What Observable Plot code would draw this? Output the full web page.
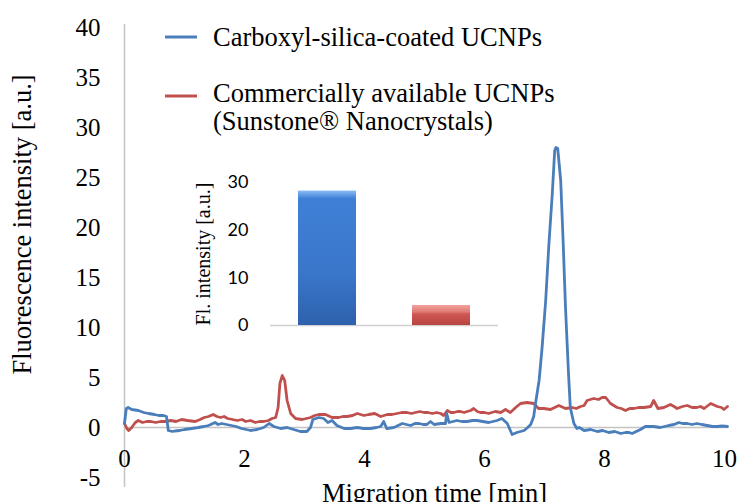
<!DOCTYPE html>
<html><head><meta charset="utf-8">
<script src="https://cdn.jsdelivr.net/npm/d3@7"></script>
<script src="https://cdn.jsdelivr.net/npm/@observablehq/plot@0.6"></script>
<style>
body{margin:0;background:#fff;}
#wrap{position:relative;width:741px;height:502px;overflow:hidden;background:#fff;}
#inset{position:absolute;left:180px;top:150px;}
</style></head><body><div id="wrap"><div id="main"></div><div id="inset"></div></div>
<script>
// ---- series names / colours ----
const seriesNames = ["Carboxyl-silica-coated UCNPs", "Commercially available UCNPs\n(Sunstone® Nanocrystals)"];
const seriesColors = ["#4a7ebb", "#c0504d"];

// ---- electropherogram: carboxyl-silica-coated UCNPs (blue) ----
const blueTime = [0.00,0.03,0.06,0.12,0.23,0.32,0.40,0.50,0.57,0.65,0.70,0.73,0.80,0.84,0.92,1.00,1.12,1.23,1.32,1.40,1.51,1.56,1.62,1.70,1.78,1.86,1.95,2.03,2.10,2.21,2.32,2.41,2.49,2.60,2.71,2.82,2.93,3.04,3.10,3.14,3.24,3.32,3.39,3.46,3.54,3.66,3.77,3.88,3.98,4.10,4.20,4.27,4.32,4.37,4.49,4.56,4.63,4.70,4.77,4.84,4.91,4.98,5.04,5.10,5.16,5.27,5.35,5.37,5.41,5.54,5.62,5.71,5.80,5.88,5.97,6.07,6.14,6.21,6.29,6.38,6.46,6.54,6.60,6.66,6.72,6.77,6.82,6.85,6.91,6.96,7.02,7.07,7.13,7.17,7.19,7.22,7.27,7.31,7.35,7.40,7.43,7.49,7.54,7.58,7.66,7.77,7.88,7.97,8.07,8.17,8.27,8.35,8.41,8.46,8.53,8.60,8.68,8.75,8.82,8.93,9.00,9.07,9.16,9.24,9.30,9.38,9.46,9.54,9.62,9.71,9.80,9.88,9.96,10.05];
const blueValue = [0.4,1.9,2.0,1.8,1.7,1.5,1.4,1.3,1.2,1.2,1.1,-0.3,-0.4,-0.35,-0.3,-0.2,-0.1,0.0,0.1,0.2,0.5,0.3,0.4,0.3,0.2,0.1,-0.1,-0.2,-0.3,-0.2,0.0,0.4,0.1,-0.1,0.0,-0.2,-0.4,-0.4,0.0,0.8,1.0,0.9,0.5,0.7,0.2,-0.1,-0.1,0.0,-0.1,-0.1,0.0,0.1,0.6,-0.1,0.0,0.2,0.4,0.3,0.2,0.4,0.4,0.3,0.3,0.6,0.3,0.4,0.4,1.4,0.5,0.7,0.6,0.6,0.7,0.7,0.6,0.5,0.6,0.7,0.9,0.4,-0.7,-0.5,-0.4,-0.3,0.0,0.3,1.1,2.4,4.7,8.0,12.7,18.0,23.4,27.7,28.0,27.9,24.7,18.7,12.0,5.4,2.0,0.4,-0.1,0.0,-0.3,-0.2,-0.4,-0.3,-0.5,-0.4,-0.6,-0.5,-0.5,-0.6,-0.4,-0.2,0.1,0.1,0.1,0.0,0.1,0.2,0.3,0.5,0.4,0.4,0.3,0.4,0.3,0.2,0.1,0.1,0.15,0.1];

// ---- electropherogram: commercially available UCNPs (red) ----
const redTime = [0.00,0.04,0.07,0.12,0.18,0.23,0.30,0.37,0.44,0.52,0.60,0.68,0.77,0.86,0.95,1.05,1.18,1.26,1.33,1.40,1.48,1.54,1.60,1.66,1.72,1.80,1.88,1.96,2.02,2.10,2.18,2.25,2.32,2.40,2.46,2.52,2.56,2.59,2.63,2.67,2.71,2.77,2.85,2.96,3.03,3.10,3.17,3.24,3.35,3.46,3.57,3.64,3.71,3.80,3.88,3.99,4.07,4.17,4.27,4.38,4.46,4.54,4.62,4.71,4.78,4.85,4.92,4.99,5.06,5.13,5.20,5.27,5.32,5.38,5.44,5.49,5.55,5.60,5.66,5.71,5.77,5.82,5.88,5.93,6.00,6.07,6.12,6.18,6.27,6.35,6.43,6.52,6.60,6.71,6.82,6.90,6.99,7.10,7.17,7.24,7.35,7.46,7.53,7.60,7.66,7.71,7.82,7.90,7.96,8.02,8.10,8.21,8.28,8.35,8.42,8.49,8.57,8.66,8.77,8.82,8.89,8.99,9.10,9.16,9.21,9.30,9.38,9.46,9.54,9.60,9.66,9.77,9.88,9.95,9.99,10.05];
const redValue = [0.4,-0.1,-0.3,0.0,0.5,0.7,0.5,0.6,0.6,0.5,0.6,0.6,0.7,0.6,0.8,0.7,0.6,0.8,1.0,1.1,1.3,1.1,1.0,1.1,0.9,0.8,0.7,0.8,0.6,0.7,0.5,0.6,0.6,0.7,0.9,1.0,2.0,4.4,5.2,4.7,2.7,1.4,0.9,0.8,0.9,1.0,1.2,1.3,1.3,1.0,1.0,1.1,1.1,1.2,1.4,1.2,1.3,1.4,1.1,1.3,1.3,1.4,1.5,1.5,1.4,1.5,1.6,1.5,1.5,1.4,1.5,1.4,1.2,1.7,1.5,1.5,1.6,1.6,1.5,1.6,1.7,1.9,1.6,1.5,1.5,1.4,1.5,1.6,1.5,1.8,1.5,2.0,2.4,2.5,2.4,1.9,1.9,1.8,2.0,2.2,1.9,2.0,1.9,2.1,2.2,2.7,2.9,2.8,3.0,3.0,2.4,2.0,1.9,1.7,1.9,1.9,2.0,2.0,2.1,2.7,1.9,2.0,2.3,2.1,1.9,2.1,2.2,2.0,2.0,2.1,1.9,2.4,2.1,2.0,1.8,2.1];

// ---- axes ----
const xTicks = [0, 2, 4, 6, 8, 10];
const yTicks = [-5, 0, 5, 10, 15, 20, 25, 30, 35, 40];
const xTitle = "Migration time [min]";
const yTitle = "Fluorescence intensity [a.u.]";

// ---- inset bar chart ----
const insetCategories = ["Carboxyl-silica-coated UCNPs", "Commercially available UCNPs"];
const insetValues = [28.2, 4.2];
const insetTicks = [0, 10, 20, 30];
const insetTitle = "Fl. intensity [a.u.]";

// tables built from the arrays
const blueData = blueTime.map((t, i) => ({t, v: blueValue[i]}));
const redData = redTime.map((t, i) => ({t, v: redValue[i]}));
const gradIds = ["url(#gradBlue)", "url(#gradRed)"];
const insetData = insetCategories.map((c, i) => ({name: c, value: insetValues[i], fill: gradIds[i]}));

const serif = "'Liberation Serif', 'Times New Roman', serif";

const main = Plot.plot({
  width: 741, height: 502,
  marginLeft: 124, marginRight: 17, marginTop: 27, marginBottom: 25,
  style: {fontFamily: serif, fontSize: "25px", color: "#000", background: "transparent"},
  x: {domain: [0, 10]},
  y: {domain: [-5, 40]},
  marks: [
    Plot.ruleY([0], {stroke: "#c4c4c4", strokeWidth: 1.5, insetRight: -3}),
    Plot.ruleX([0], {stroke: "#c4c4c4", strokeWidth: 1.5, insetTop: -3, insetBottom: -10}),
    Plot.lineY(redData, {x: "t", y: "v", stroke: seriesColors[1], strokeWidth: 2.8, strokeLinejoin: "round"}),
    Plot.lineY(blueData, {x: "t", y: "v", stroke: seriesColors[0], strokeWidth: 2.8, strokeLinejoin: "round"}),
    Plot.axisY(yTicks, {tickSize: 0, tickPadding: 24, label: null, tickFormat: d => String(d), fontSize: 25}),
    Plot.axisX(xTicks, {tickSize: 0, tickPadding: 0, dy: -28, label: null, tickFormat: d => String(d), fontSize: 25}),
    Plot.text([yTitle], {text: d => d, frameAnchor: "left", textAnchor: "middle", lineAnchor: "middle", rotate: -90, dx: -102, dy: -28, fontSize: 26.5}),
    Plot.text([xTitle], {text: d => d, frameAnchor: "bottom", textAnchor: "middle", lineAnchor: "middle", dx: 10, dy: 16, fontSize: 26.5})
  ]
});
document.getElementById("main").appendChild(main);

// legend inside the main svg
const lg = d3.select(main).append("g").attr("font-family", serif).attr("font-size", 26.5)
  .attr("fill", "#000").attr("text-anchor", "start");
const legendLineY = [37, 96];
const legendTextY = [46, 102];
seriesNames.forEach((name, i) => {
  lg.append("line").attr("x1", 165).attr("x2", 197).attr("y1", legendLineY[i]).attr("y2", legendLineY[i])
    .attr("stroke", seriesColors[i]).attr("stroke-width", 3);
  const txt = lg.append("text").attr("x", 213).attr("y", legendTextY[i]);
  name.split("\n").forEach((line, j) => {
    txt.append("tspan").attr("x", 213).attr("dy", j === 0 ? 0 : 28).text(line);
  });
});

// inset
const inset = Plot.plot({
  width: 330, height: 200,
  marginLeft: 90, marginRight: 12, marginTop: 32, marginBottom: 25,
  style: {fontFamily: "Lato, 'Open Sans', sans-serif", fontSize: "18px", color: "#000", background: "transparent"},
  x: {domain: insetCategories, paddingInner: 0.487, paddingOuter: 0.235, axis: null},
  y: {domain: [0, 30]},
  color: {type: "identity"},
  marks: [
    Plot.ruleY([0], {stroke: "#d0d0d0", strokeWidth: 1.5}),
    Plot.barY(insetData, {x: "name", y: "value", fill: "fill"}),
    Plot.axisY(insetTicks, {tickSize: 0, tickPadding: 22, label: null, fontSize: 18}),
    Plot.text([insetTitle], {text: d => d, frameAnchor: "left", textAnchor: "middle", lineAnchor: "middle", rotate: -90, dx: -67, dy: 0, fontFamily: serif, fontSize: 20})
  ]
});
const defs = d3.select(inset).insert("defs", ":first-child");
const gb = defs.append("linearGradient").attr("id", "gradBlue").attr("x1", 0).attr("y1", 0).attr("x2", 0).attr("y2", 1);
[[0, "#8bbcf2"], [0.035, "#5d9ae4"], [0.06, "#3f80d6"], [0.6, "#3a77cb"], [1, "#2e61ad"]].forEach(([o, c]) => gb.append("stop").attr("offset", o).attr("stop-color", c));
const gr = defs.append("linearGradient").attr("id", "gradRed").attr("x1", 0).attr("y1", 0).attr("x2", 0).attr("y2", 1);
[[0, "#f2a29e"], [0.35, "#e07a75"], [0.45, "#d05752"], [1, "#b8443f"]].forEach(([o, c]) => gr.append("stop").attr("offset", o).attr("stop-color", c));
document.getElementById("inset").appendChild(inset);
</script>
</body></html>
